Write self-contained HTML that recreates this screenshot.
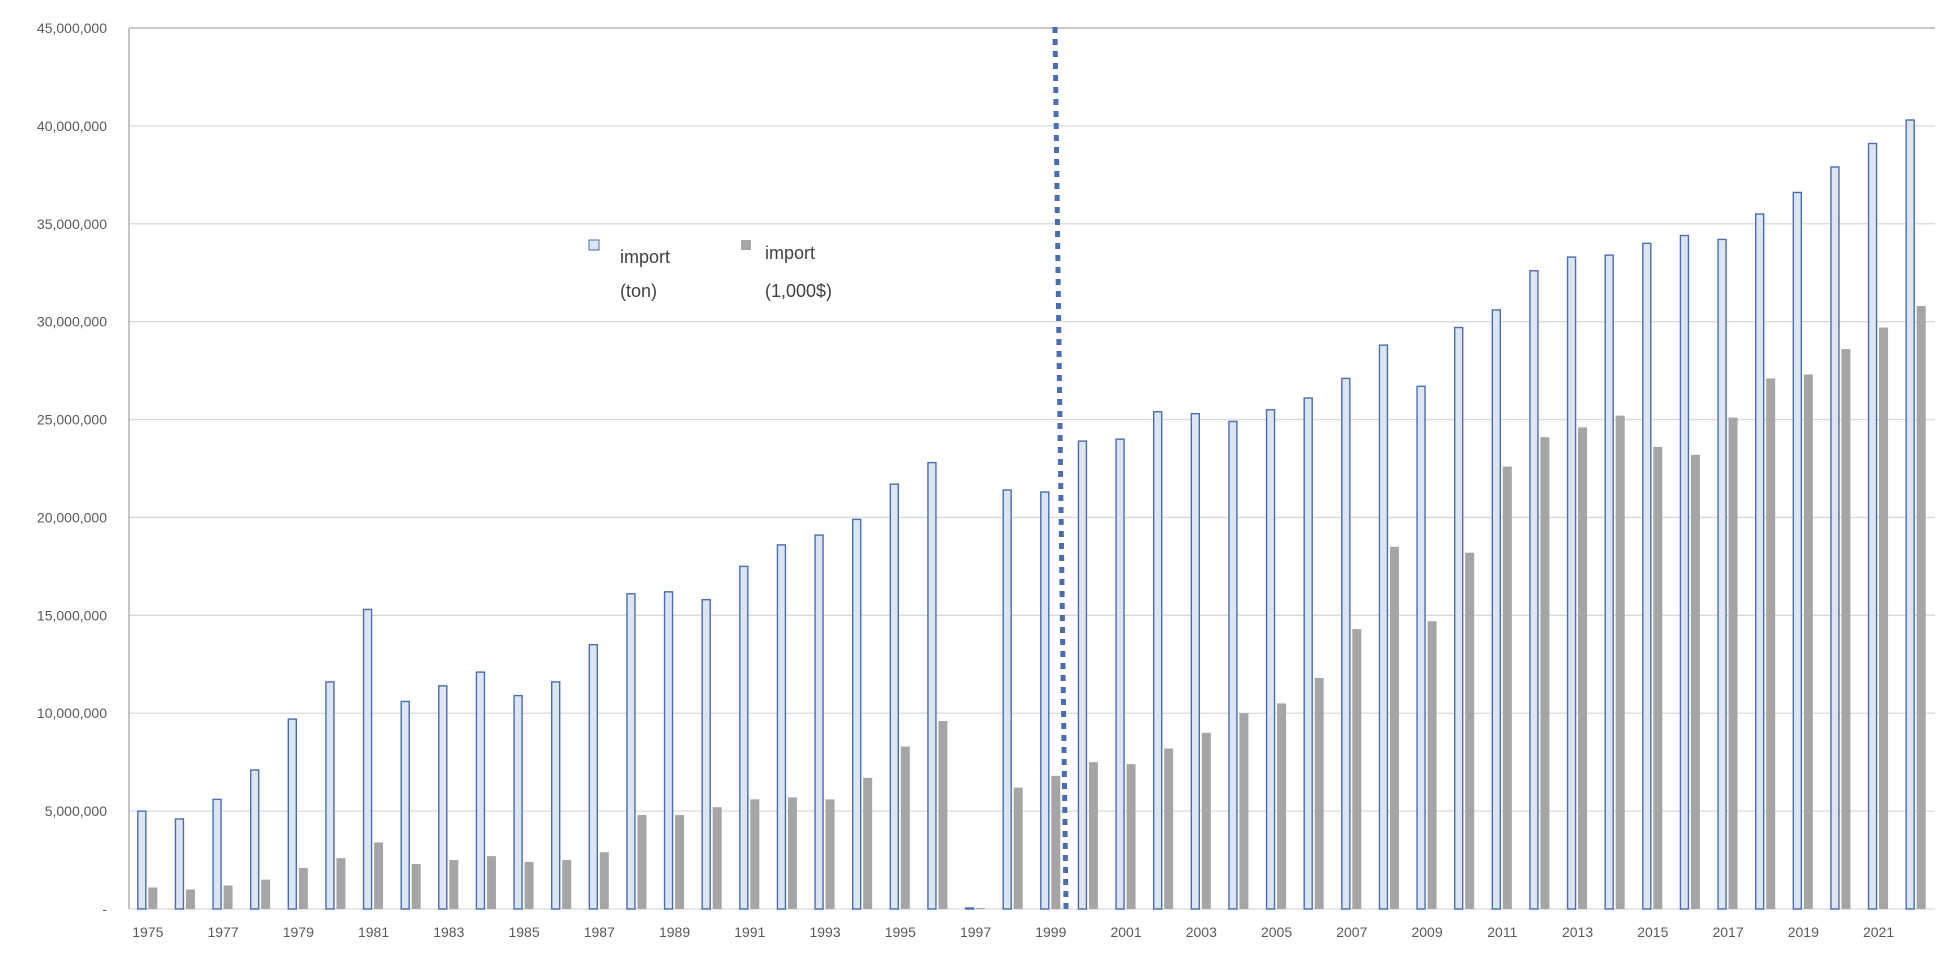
<!DOCTYPE html>
<html><head><meta charset="utf-8"><style>
html,body{margin:0;padding:0;background:#fff;}
svg{display:block;font-family:"Liberation Sans",sans-serif;}
</style></head><body>
<svg id="chart" width="1956" height="955">
<g id="grid"></g>
<g id="yaxis"></g>
<g id="bars"></g>
<g id="xaxis"></g>
<g id="marker"></g>
<g>
 <g>
  <rect x="589" y="240" width="10" height="10" fill="#dce6f2" stroke="#4a6db0" stroke-width="1"/>
  <text x="620" y="263" font-size="18" fill="#404040">import</text>
  <text x="620" y="297" font-size="18" fill="#404040">(ton)</text>
 </g>
 <g>
  <rect x="741" y="240" width="10" height="10" fill="#a5a5a5"/>
  <text x="765" y="259" font-size="18" fill="#404040">import</text>
  <text x="765" y="297" font-size="18" fill="#404040">(1,000$)</text>
 </g>
</g>
</svg>
<script>
const years = [];
for (let y = 1975; y <= 2022; y++) years.push(y);
const tonValues = [5.0,4.6,5.6,7.1,9.7,11.6,15.3,10.6,11.4,12.1,10.9,11.6,13.5,16.1,16.2,15.8,17.5,18.6,19.1,19.9,21.7,22.8,0.05,21.4,21.3,23.9,24.0,25.4,25.3,24.9,25.5,26.1,27.1,28.8,26.7,29.7,30.6,32.6,33.3,33.4,34.0,34.4,34.2,35.5,36.6,37.9,39.1,40.3];
const valueValues = [1.1,1.0,1.2,1.5,2.1,2.6,3.4,2.3,2.5,2.7,2.4,2.5,2.9,4.8,4.8,5.2,5.6,5.7,5.6,6.7,8.3,9.6,0.05,6.2,6.8,7.5,7.4,8.2,9.0,10.0,10.5,11.8,14.3,18.5,14.7,18.2,22.6,24.1,24.6,25.2,23.6,23.2,25.1,27.1,27.3,28.6,29.7,30.8];
const yTicks = [0,5,10,15,20,25,30,35,40,45];
const yTickLabels = ["-","5,000,000","10,000,000","15,000,000","20,000,000","25,000,000","30,000,000","35,000,000","40,000,000","45,000,000"];

const NS = "http://www.w3.org/2000/svg";
const L = 129, R = 1935, T = 28, B = 909, YMAX = 45;
const step = (R - L) / years.length;
const yScale = v => B - (v / YMAX) * (B - T);
const xCenter = i => L + step * (i + 0.5);
function mk(tag, attrs, parent) {
  const e = document.createElementNS(NS, tag);
  for (const k in attrs) e.setAttribute(k, attrs[k]);
  parent.appendChild(e);
  return e;
}
const grid = document.getElementById('grid'), yaxis = document.getElementById('yaxis');
yTicks.forEach((t, i) => {
  const y = yScale(t);
  const top = i === yTicks.length - 1;
  const ln = mk('line', {x1: L, x2: R, y1: y, y2: y, stroke: top ? '#a6a6a6' : '#d9d9d9', 'stroke-width': 1.3}, grid);
  
  
  const tx = mk('text', {x: 107, y: y + 5, 'text-anchor': 'end', 'font-size': 14, fill: '#595959'}, yaxis);
  tx.textContent = yTickLabels[i];
  
  
});
const axl = mk('line', {x1: L, x2: L, y1: T, y2: B, stroke: '#a6a6a6', 'stroke-width': 1.3}, yaxis);



const bars = document.getElementById('bars'), xaxis = document.getElementById('xaxis');
years.forEach((yr, i) => {
  const c = xCenter(i);
  const y1 = yScale(tonValues[i]);
  const b1 = mk('rect', {x: c - 10, y: y1, width: 8, height: B - y1, fill: '#dce6f2', stroke: '#4a6db0', 'stroke-width': 1.4}, bars);
  
  
  const y2 = yScale(valueValues[i]);
  const b2 = mk('rect', {x: c + 0.5, y: y2, width: 9, height: B - y2, fill: '#a5a5a5'}, bars);
  
  
  if (i % 2 === 0) {
    const tx = mk('text', {x: c, y: 937, 'text-anchor': 'middle', 'font-size': 14, fill: '#595959'}, xaxis);
    tx.textContent = yr;
    
    
  }
});
const mg = document.getElementById('marker');
const x0 = 1055, x1 = 1066, yTop = 27, yBot = 903;
for (let y = yTop; y <= yBot; y += 12) {
  const f = (y - yTop) / (yBot - yTop);
  const d = mk('rect', {x: x0 + (x1 - x0) * f - 2.5, y: y, width: 5, height: 6, fill: '#4a6db0'}, mg);
  
  
}
</script>
</body></html>
